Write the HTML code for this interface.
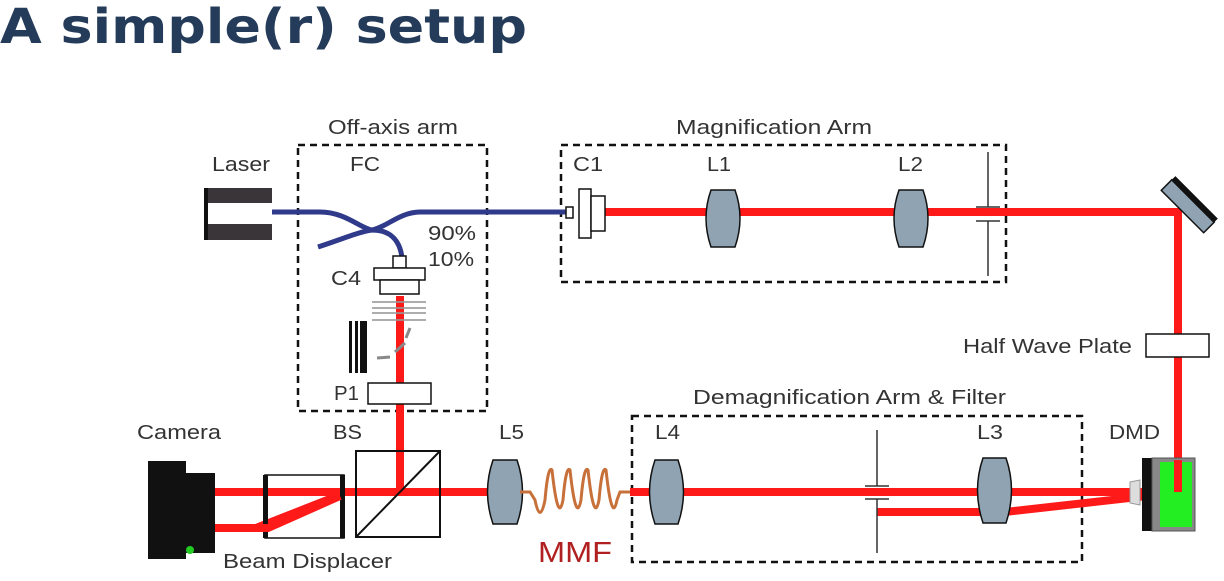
<!DOCTYPE html>
<html><head><meta charset="utf-8"><style>
html,body{margin:0;padding:0;background:#fff;width:1224px;height:581px;overflow:hidden}
svg text{font-family:"Liberation Sans",sans-serif;fill:#333}
</style></head><body>
<svg width="1224" height="581" viewBox="0 0 1224 581">
<text x="0" y="43" textLength="527" lengthAdjust="spacingAndGlyphs" style="font-family:'DejaVu Sans',sans-serif;font-weight:bold;font-size:48px;fill:#243b5a">A simple(r) setup</text>

<g fill="none" stroke="#111" stroke-width="2.5" stroke-dasharray="7,5">
<rect x="298" y="145" width="189" height="266"/>
<rect x="561" y="145" width="445" height="137"/>
<rect x="632" y="416" width="450" height="146"/>
</g>

<g stroke="#ff1a1a" stroke-width="8" fill="none">
<line x1="604" y1="212" x2="1182" y2="212"/>
<line x1="1178" y1="212" x2="1178" y2="492"/>
<line x1="400" y1="296" x2="400" y2="492"/>
<line x1="215" y1="492" x2="520" y2="492"/>
<line x1="630" y1="492" x2="1178" y2="492"/>
<polyline points="215,528 256,528 340,495"/>
<polyline points="877,512 1005,512 1165,494"/>
</g>

<g fill="none" stroke="#2f3a8a" stroke-width="5">
<path d="M272,212 L320,212 C345,212 360,228 372,230 C385,228 400,212 420,212 L566,212"/>
<path d="M318,247 C340,240 358,232 372,230 C390,230 400,240 402,258"/>
</g>

<g>
<rect x="204" y="188" width="68" height="52" fill="#3a3538"/>
<rect x="204" y="203" width="68" height="21" fill="#fff"/>
<rect x="204" y="188" width="4" height="52" fill="#111"/>
</g>

<g fill="#fff" stroke="#111" stroke-width="1.5">
<rect x="566" y="207" width="7" height="11"/>
<rect x="579" y="189" width="12" height="49"/>
<rect x="591" y="196" width="14" height="35"/>
</g>
<g fill="#fff" stroke="#111" stroke-width="1.5">
<rect x="393" y="256" width="13" height="12"/>
<rect x="374" y="268" width="51" height="12"/>
<rect x="380" y="280" width="39" height="14"/>
</g>
<g stroke="#999" stroke-width="2" opacity="0.8">
<line x1="372" y1="302" x2="426" y2="302"/><line x1="372" y1="308" x2="426" y2="308"/>
<line x1="372" y1="313" x2="426" y2="313"/><line x1="372" y1="320" x2="426" y2="320"/>
</g>
<g>
<rect x="349" y="321" width="18" height="52" fill="#111"/>
<rect x="352" y="321" width="3" height="52" fill="#fff"/><rect x="358" y="321" width="2" height="52" fill="#fff"/>
</g>
<g stroke="#888" stroke-width="3" fill="none">
<path d="M377,358 L390,357"/><path d="M395,352 L405,343"/><path d="M406,338 L410,328"/>
</g>
<rect x="368" y="383" width="63" height="21" fill="#fff" stroke="#111" stroke-width="1.5"/>

<g fill="#8fa3b3" stroke="#111" stroke-width="1.5">
<path d="M711,190 L735,190 Q745,218 735,247 L711,247 Q701,218 711,190Z"/>
<path d="M899,190 L923,190 Q933,218 923,247 L899,247 Q889,218 899,190Z"/>
<path d="M493,460 L517,460 Q528,492 517,524 L493,524 Q482,492 493,460Z"/>
<path d="M655,460 L678,460 Q689,492 678,524 L655,524 Q644,492 655,460Z"/>
<path d="M983,458 L1006,458 Q1017,490 1006,523 L983,523 Q972,490 983,458Z"/>
</g>
<g stroke="#333" stroke-width="1.5">
<line x1="988" y1="152" x2="988" y2="207"/><line x1="988" y1="221" x2="988" y2="276"/>
<line x1="976" y1="207" x2="1000" y2="207"/><line x1="976" y1="221" x2="1000" y2="221"/>
<line x1="877" y1="430" x2="877" y2="486"/><line x1="877" y1="499" x2="877" y2="553"/>
<line x1="865" y1="486" x2="889" y2="486"/><line x1="865" y1="499" x2="889" y2="499"/>
</g>
<g transform="translate(1186,208) rotate(45)">
<rect x="-30" y="-10" width="60" height="15" fill="#8fa3b3" stroke="#111" stroke-width="1.5"/>
<rect x="-30" y="-15" width="60" height="6" fill="#111"/>
</g>
<rect x="1146" y="334" width="63" height="23" fill="#fff" stroke="#111" stroke-width="1.5"/>
<g>
<path d="M1130,482 L1140,480 L1140,505 L1130,503Z" fill="#ddd" stroke="#999"/>
<rect x="1142" y="458" width="12" height="73" fill="#111"/>
<rect x="1152" y="458" width="43" height="73" fill="#888" stroke="#555"/>
<rect x="1160" y="462" width="32" height="65" fill="#22ee22"/>
<line x1="1178" y1="460" x2="1178" y2="492" stroke="#ff1a1a" stroke-width="8"/>
</g>
<g fill="none" stroke="#111" stroke-width="2">
<rect x="356" y="451" width="84" height="86"/><line x1="356" y1="537" x2="440" y2="451"/>
</g>
<g>
<rect x="265" y="475" width="79" height="63" fill="none" stroke="#111" stroke-width="1.5"/>
<rect x="263" y="475" width="5" height="63" fill="#111"/><rect x="340" y="475" width="5" height="63" fill="#111"/>
</g>
<g stroke="#ff1a1a" stroke-width="8" fill="none"><line x1="268" y1="492" x2="340" y2="492"/><polyline points="256,528 268,528 340,496"/></g>
<g>
<rect x="148" y="461" width="38" height="98" fill="#111"/>
<rect x="184" y="473" width="31" height="80" fill="#111"/>
<circle cx="190" cy="550" r="4" fill="#2c2"/>
</g>
<path d="M520,492 L530,492 L535,500 Q540,525 545,500 Q548,465 552,470 Q558,525 563,500 Q566,465 570,470 Q576,525 581,500 Q584,465 588,470 Q594,525 599,500 Q602,465 606,470 Q612,525 617,500 L620,492 L630,492" fill="none" stroke="#c8703a" stroke-width="3"/>

<g font-size="20" lengthAdjust="spacingAndGlyphs">
<text x="328" y="134" textLength="130" lengthAdjust="spacingAndGlyphs">Off-axis arm</text>
<text x="676" y="134" textLength="196" lengthAdjust="spacingAndGlyphs">Magnification Arm</text>
<text x="212" y="171" textLength="58" lengthAdjust="spacingAndGlyphs">Laser</text>
<text x="350" y="171" textLength="30" lengthAdjust="spacingAndGlyphs">FC</text>
<text x="573" y="171" textLength="30" lengthAdjust="spacingAndGlyphs">C1</text>
<text x="707" y="171" textLength="24" lengthAdjust="spacingAndGlyphs">L1</text>
<text x="898" y="171" textLength="25" lengthAdjust="spacingAndGlyphs">L2</text>
<text x="428" y="240" textLength="48" lengthAdjust="spacingAndGlyphs">90%</text>
<text x="428" y="266" textLength="46" lengthAdjust="spacingAndGlyphs">10%</text>
<text x="331" y="285" textLength="30" lengthAdjust="spacingAndGlyphs">C4</text>
<text x="334" y="400" textLength="25" lengthAdjust="spacingAndGlyphs">P1</text>
<text x="963" y="353" textLength="169" lengthAdjust="spacingAndGlyphs">Half Wave Plate</text>
<text x="693" y="404" textLength="313" lengthAdjust="spacingAndGlyphs">Demagnification Arm &amp; Filter</text>
<text x="137" y="439" textLength="84" lengthAdjust="spacingAndGlyphs">Camera</text>
<text x="333" y="439" textLength="29" lengthAdjust="spacingAndGlyphs">BS</text>
<text x="499" y="439" textLength="25" lengthAdjust="spacingAndGlyphs">L5</text>
<text x="655" y="439" textLength="25" lengthAdjust="spacingAndGlyphs">L4</text>
<text x="977" y="439" textLength="26" lengthAdjust="spacingAndGlyphs">L3</text>
<text x="1109" y="439" textLength="51" lengthAdjust="spacingAndGlyphs">DMD</text>
<text x="223" y="568" textLength="169" lengthAdjust="spacingAndGlyphs">Beam Displacer</text>
<text x="538" y="562" font-size="29" textLength="74" lengthAdjust="spacingAndGlyphs" style="fill:#b02020">MMF</text>
</g>
</svg>
</body></html>
